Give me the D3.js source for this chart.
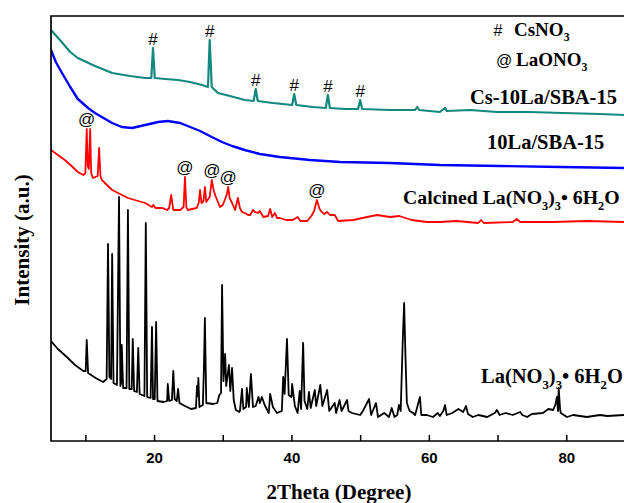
<!DOCTYPE html>
<html><head><meta charset="utf-8">
<script src="https://cdn.jsdelivr.net/npm/d3@7"></script>
<style>body{margin:0;background:#fff;overflow:hidden} svg{display:block}</style>
</head><body><svg id="c" width="624" height="503"></svg>
<script>
// ---- data: [2theta (deg), intensity (a.u., offset stacked)] ----
const csLaSBA = [[5.0,411],[6.3,401],[7.8,389],[8.9,383],[11.4,375],[13.9,368],[16.5,365],[18.7,363],[19.6,363],[19.85,393],[20.1,363],[21.6,362],[23.5,361],[25.2,359],[27.0,356],[27.85,354],[28.1,401],[28.4,354],[29.3,348],[31.05,345],[33.2,341],[34.5,340],[34.8,352],[35.1,340],[37.3,338],[40.1,336],[40.4,347],[40.7,336],[43.1,334],[45.0,333],[45.3,346],[45.6,333],[47.8,332],[49.7,332],[50.0,341],[50.3,332],[54.3,331],[58.0,331],[58.3,334],[58.6,331],[61.6,329],[62.35,333],[62.6,330],[66.0,331],[69.9,329],[74.7,329],[79.5,328],[84.9,327],[88.4,326]];
const laSBA = [[5.0,391],[5.7,379],[6.6,368],[7.8,354],[8.9,342],[10.4,333],[11.4,328],[12.9,322],[13.9,318],[15.3,314],[16.8,313],[18.7,316],[20.6,319],[22.0,320],[23.8,318],[24.9,315],[26.7,310],[28.4,304],[29.9,299],[31.35,295],[33.2,291],[35.4,287],[38.3,284],[42.7,281],[47.1,279],[54.3,278],[61.6,276],[70.4,275],[79.2,274],[88.4,273]];
const calcined = [[5.0,291],[6.0,286],[7.0,281],[8.0,275],[8.9,269],[9.7,266],[10.0,268],[10.2,312],[10.35,275],[10.5,272],[10.7,312],[10.85,268],[11.1,263],[11.8,265],[12.0,293],[12.2,265],[12.4,261],[13.9,251],[16.2,243],[18.7,238],[19.7,234],[19.9,236],[20.2,233],[21.2,233],[21.9,231],[22.2,233],[22.5,246],[22.8,231],[23.8,231],[24.3,234],[24.5,264],[24.7,234],[24.9,231],[26.2,233],[26.5,238],[26.7,251],[26.9,238],[27.2,240],[27.4,254],[27.6,239],[28.1,244],[28.4,261],[28.7,250],[29.0,244],[29.6,234],[30.0,236],[30.3,241],[30.6,247],[30.8,254],[31.0,243],[31.35,238],[31.8,231],[32.2,243],[32.5,233],[32.8,229],[33.2,228],[33.7,226],[34.0,226],[34.4,231],[34.7,229],[35.1,228],[35.4,230],[35.9,224],[36.6,225],[36.9,232],[37.2,224],[37.6,228],[37.9,223],[38.3,223],[39.2,221],[40.2,221],[40.9,224],[41.3,220],[42.3,220],[42.9,225],[43.3,230],[43.7,241],[44.1,232],[44.4,229],[44.8,227],[45.2,229],[45.6,226],[46.3,226],[46.8,220],[49.0,221],[51.0,224],[52.5,226],[54.3,224],[55.7,225],[57.5,221],[59.7,219],[61.6,219],[64.0,220],[67.2,218],[67.6,221],[68.0,218],[72.2,219],[72.8,222],[73.3,219],[78.0,219],[83.0,220],[88.4,219]];
const laNitrate = [[5.0,100],[6.0,92],[7.3,84],[8.5,76],[9.7,70],[10.05,70],[10.2,101],[10.4,68],[11.5,63],[12.6,59],[13.1,62],[13.3,197],[13.5,64],[13.75,62],[13.9,187],[14.1,58],[14.6,56],[14.9,244],[15.1,55],[15.2,58],[15.3,96],[15.5,53],[16.0,53],[16.2,231],[16.4,52],[16.75,52],[16.9,102],[17.1,50],[17.5,49],[17.7,93],[17.9,47],[18.6,45],[18.8,218],[19.0,44],[19.5,43],[19.7,114],[19.85,42],[20.1,42],[20.3,119],[20.5,40],[21.4,39],[21.9,40],[22.0,57],[22.2,40],[22.6,41],[22.8,70],[23.0,42],[23.3,40],[23.5,52],[23.7,38],[24.5,35],[25.4,32],[26.1,33],[26.25,55],[26.35,45],[26.45,63],[26.6,34],[27.1,36],[27.25,70],[27.4,123],[27.6,38],[28.6,37],[29.2,38],[29.5,46],[29.75,48],[29.9,156],[30.1,60],[30.35,87],[30.5,55],[30.9,76],[31.1,50],[31.35,73],[31.6,41],[31.9,31],[32.4,29],[32.5,30],[32.8,52],[33.0,32],[33.4,34],[33.5,53],[33.8,34],[34.1,67],[34.4,34],[34.8,35],[35.2,44],[35.4,38],[35.7,44],[36.1,36],[36.7,28],[36.9,47],[37.3,34],[37.9,28],[38.6,30],[38.8,64],[39.0,47],[39.35,102],[39.6,46],[40.0,44],[40.1,57],[40.5,35],[40.9,28],[41.2,50],[41.4,32],[41.7,98],[41.9,40],[42.3,32],[42.55,49],[42.8,33],[43.4,51],[43.6,35],[44.2,56],[44.5,35],[45.2,51],[45.5,30],[46.3,38],[46.5,28],[47.0,41],[47.3,30],[48.1,41],[48.3,30],[48.8,28],[50.0,26],[50.4,30],[51.3,42],[51.6,26],[52.3,38],[52.6,24],[53.5,28],[54.2,24],[54.6,33],[55.0,24],[55.4,26],[55.65,36],[55.9,30],[56.2,100],[56.4,138],[56.6,84],[56.8,38],[57.2,30],[57.7,28],[58.0,26],[58.7,44],[58.9,26],[59.7,26],[60.6,24],[61.3,28],[61.6,25],[62.1,30],[62.35,36],[62.6,26],[63.4,28],[64.3,32],[65.0,29],[65.4,35],[65.7,27],[66.4,24],[67.2,26],[68.5,24],[69.6,28],[69.9,31],[70.3,26],[71.2,28],[72.2,26],[73.3,29],[73.6,26],[74.3,24],[75.0,27],[76.6,28],[77.4,32],[78.1,31],[78.4,36],[78.65,44],[78.8,30],[78.9,53],[79.1,32],[79.2,28],[80.1,24],[81.0,26],[83.0,24],[84.9,26],[86.0,25],[88.4,26]];

const xTicks = [10,20,30,40,50,60,70,80,90];
const xTickLabels = [20,40,60,80];
const csno3Peaks = [19.85,28.1,34.8,40.4,45.3,50.0];     // marked "#"
const laono3Peaks = [10.2,24.5,28.4,30.8,43.7];          // marked "@"

const seriesNames = [
  [["Cs-10La/SBA-15",0]],
  [["10La/SBA-15",0]],
  [["Calcined La(NO",0],["3",1],[")",0],["3",1],["\u2022 6H",0],["2",1],["O",0]],
  [["La(NO",0],["3",1],[")",0],["3",1],["\u2022 6H",0],["2",1],["O",0]]
];
const legendHash = [["CsNO",0],["3",1]];
const legendAt = [["LaONO",0],["3",1]];

// ---- drawing ----
const svg = d3.select("#c");
const L = 51, T = 16, B = 441;
const x = d3.scaleLinear().domain([5,90]).range([L, L + 85*6.87]);
const y = d3.scaleLinear().domain([0,425]).range([B, T]);
const serif = "'Liberation Serif','Times New Roman',serif";
const sans = "'Liberation Sans',Arial,sans-serif";

const series = [
  {d: csLaSBA, c: "#12887e", w: 2.2},
  {d: laSBA, c: "#0000ff", w: 2.4},
  {d: calcined, c: "#ff0000", w: 1.8},
  {d: laNitrate, c: "#000000", w: 1.8}
];
const line = d3.line().x(d => x(d[0])).y(d => y(d[1]));
svg.append("clipPath").attr("id","pc").append("rect")
  .attr("x", L).attr("y", T).attr("width", 700).attr("height", B - T);
const g = svg.append("g").attr("clip-path","url(#pc)");
series.forEach(s => {
  g.append("path").attr("d", line(s.d)).attr("fill","none")
    .attr("stroke", s.c).attr("stroke-width", s.w).attr("stroke-linejoin","round");
});

// frame
svg.append("path").attr("d", `M${x(90)},${T}H${L}V${B}H${x(90)}`)
  .attr("fill","none").attr("stroke","#000").attr("stroke-width",1.7);

// x axis
const xAxis = d3.axisBottom(x).tickValues(xTicks).tickSizeInner(-6).tickSizeOuter(0)
  .tickFormat(d => xTickLabels.includes(d) ? d : "");
const ax = svg.append("g").attr("transform", `translate(0,${B})`).call(xAxis);
ax.select(".domain").remove();
ax.selectAll(".tick line").attr("stroke","#000").attr("stroke-width",1.5);
ax.selectAll(".tick text").attr("font-family", sans).attr("font-weight","bold")
  .attr("font-size",15).attr("fill","#000").attr("dy", "1.25em");

svg.append("text").attr("x", 339).attr("y", 499).attr("text-anchor","middle")
  .attr("font-family", serif).attr("font-weight","bold").attr("font-size",21)
  .text("2Theta (Degree)");
svg.append("text").attr("transform","translate(29,240) rotate(-90)").attr("text-anchor","middle")
  .attr("font-family", serif).attr("font-weight","bold").attr("font-size",21)
  .text("Intensity (a.u.)");

// rich text helper
function rich(xp, yp, parts, size, weight) {
  const t = svg.append("text").attr("x", xp).attr("y", yp)
    .attr("font-family", serif).attr("font-weight", weight).attr("font-size", size);
  let sub = 0;
  parts.forEach(([s, isSub]) => {
    const ts = t.append("tspan").text(s);
    if (isSub && !sub) { ts.attr("font-size", size*0.62).attr("dy", size*0.28); sub = 1; }
    else if (isSub && sub) { ts.attr("font-size", size*0.62); }
    else if (!isSub && sub) { ts.attr("dy", -size*0.28); sub = 0; }
  });
  return t;
}
rich(470, 104, seriesNames[0], 20.5, "bold");
rich(487, 149, seriesNames[1], 20.5, "bold");
rich(403, 204, seriesNames[2], 19.8, "bold");
rich(481, 383, seriesNames[3], 20.5, "bold");

// peak markers
function peakTop(data, p) {
  return d3.max(data.filter(d => Math.abs(d[0]-p) < 0.35), d => d[1]);
}
csno3Peaks.forEach(p => {
  svg.append("text").attr("x", x(p)).attr("y", y(peakTop(csLaSBA, p)) - 3)
    .attr("text-anchor","middle").attr("font-family", sans).attr("font-size",17).text("#");
});
laono3Peaks.forEach(p => {
  svg.append("text").attr("x", x(p)).attr("y", y(peakTop(calcined, p)) - 4)
    .attr("text-anchor","middle").attr("font-family", sans).attr("font-size",17).text("@");
});

// marker legend
svg.append("text").attr("x", 498).attr("y", 36).attr("text-anchor","middle")
  .attr("font-family", sans).attr("font-size",16).text("#");
rich(514, 36, legendHash, 19, "bold");
svg.append("text").attr("x", 504).attr("y", 66).attr("text-anchor","middle")
  .attr("font-family", sans).attr("font-size",16).text("@");
rich(516, 66, legendAt, 19, "bold");
</script></body></html>
